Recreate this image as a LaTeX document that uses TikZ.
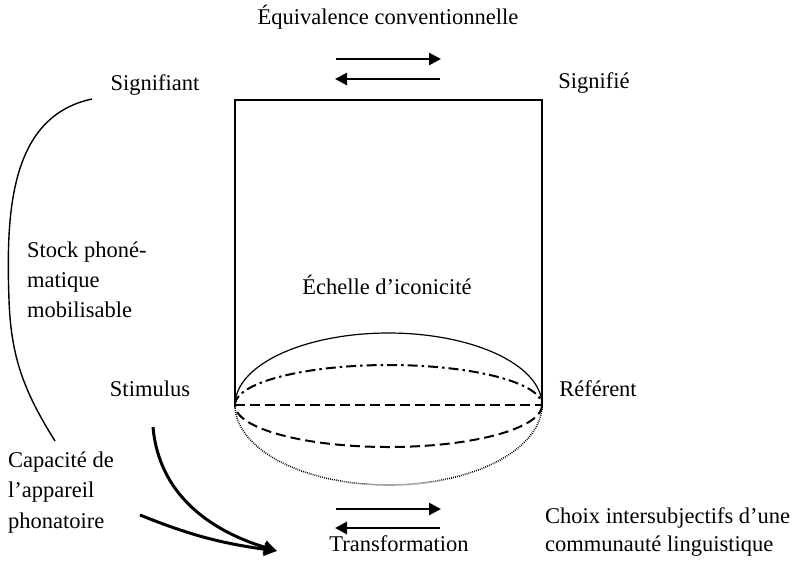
\documentclass[tikz,border=0pt]{standalone}
\usepackage{fontspec}
\setmainfont{Liberation Serif}
\usetikzlibrary{arrows.meta}
\begin{document}
\begin{tikzpicture}[x=1pt,y=-1pt,
  lbl/.style={font=\fontsize{22.5}{28}\selectfont, inner sep=0pt, anchor=base},
  lbll/.style={lbl, anchor=base west},
  dblarrow/.style={line width=2.8pt, -{Triangle[length=12pt,width=12pt]}},
  curvearrow/.style={line width=3pt, -{Triangle[length=13pt,width=13pt]}},
  thinline/.style={line width=1.2pt},
  dashdotline/.style={line width=2pt, dash pattern=on 10pt off 4pt on 2.5pt off 4pt},
  dashline/.style={line width=2pt, dash pattern=on 10pt off 5pt},
  dotline/.style={line width=1.6pt, dash pattern=on 0.8pt off 1.2pt}]
\useasboundingbox (0,0) rectangle (802,563);

% texts
\node[lbl] (equiv) at (388,24) {Équivalence conventionnelle};
\node[lbl] (sgnt) at (155,90) {Signifiant};
\node[lbl] (sgne) at (594,88) {Signifié};
\node[lbl] (echelle) at (387,294) {Échelle d’iconicité};
\node[lbl] (stim) at (150,396) {Stimulus};
\node[lbl] (ref) at (598,396) {Référent};
\node[lbl] (transf) at (399,551) {Transformation};
\node[lbll] (stock1) at (27,257) {Stock phoné-};
\node[lbll] (stock2) at (27,287) {matique};
\node[lbll] (stock3) at (27,317) {mobilisable};
\node[lbll] (cap1) at (8,467) {Capacité de};
\node[lbll] (cap2) at (8,497) {l’appareil};
\node[lbll] (cap3) at (8,528) {phonatoire};
\node[lbll] (choix1) at (545,523) {Choix intersubjectifs d’une};
\node[lbll] (choix2) at (545,551) {communauté linguistique};

% equivalence arrows
\coordinate (ta1) at (336,59); \coordinate (ta2) at (441,59);
\coordinate (tb1) at (440,79); \coordinate (tb2) at (335,79);
\draw[dblarrow] (ta1) -- (ta2);
\draw[dblarrow] (tb1) -- (tb2);

% transformation arrows
\coordinate (ba1) at (336,509); \coordinate (ba2) at (441,509);
\coordinate (bb1) at (440,528); \coordinate (bb2) at (335,528);
\draw[dblarrow] (ba1) -- (ba2);
\draw[dblarrow] (bb1) -- (bb2);

% cylinder frame
\coordinate (bl) at (235,405); \coordinate (tl) at (235,100);
\coordinate (tr) at (542,100); \coordinate (br) at (542,405);
\draw[thinline] (bl) -- (tl) -- (tr) -- (br);

% ellipse arcs
\draw[thinline] plot[domain=180:360, samples=120] ({388.5+153.5*cos(\x)},{405+72*sin(\x)});
\draw[dashdotline] plot[domain=180:360, samples=120] ({388.5+153.5*cos(\x)},{405+40*sin(\x)});
\draw[dashline] (bl) -- (br);
\draw[dashline] plot[domain=0:180, samples=120] ({388.5+153.5*cos(\x)},{405+42*sin(\x)});
\draw[dotline] plot[domain=0:180, samples=160] ({388.5+153.5*cos(\x)},{405+80*sin(\x)});

% left bracket curve
\coordinate (lc1) at (92,99); \coordinate (lc2) at (9,300); \coordinate (lc3) at (55,441);
\draw[line width=1.4pt] (lc1) to[out=192,in=92] (lc2) to[out=-88,in=122] (lc3);

% curved arrows to transformation
\coordinate (tip) at (277,551);
\coordinate (c1) at (153,427);
\coordinate (c2) at (140,515);
\draw[curvearrow] (c1) to[out=-85,in=163] (tip);
\draw[curvearrow] (c2) to[out=-22,in=172] (tip);
\end{tikzpicture}
\end{document}
